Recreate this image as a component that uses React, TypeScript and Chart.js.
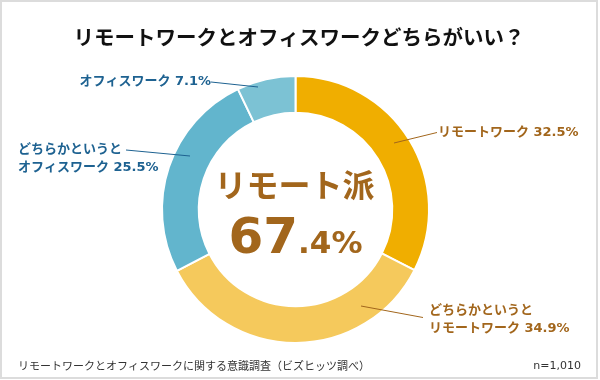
import React, { useEffect, useRef } from "react";
import { Chart, registerables } from "chart.js";

Chart.register(...registerables);

const categories = ["リモートワーク", "どちらかというとリモートワーク", "どちらかというとオフィスワーク", "オフィスワーク"];
const values = [32.5, 34.9, 25.5, 7.1];
const colors = ["#F0AE00", "#F5C95C", "#62B5CD", "#7CC2D4"];
const titleText = "リモートワークとオフィスワークどちらがいい？";
const centerLabel = "リモート派";
const centerMain = "67";
const centerDecimal = ".4%";
const sourceText = "リモートワークとオフィスワークに関する意識調査（ビズヒッツ調べ）";
const sampleText = "n=1,010";

const BROWN = "#A2661C";
const BLUE = "#1E6291";
const FONT = "'DejaVu Sans', 'Noto Sans CJK JP', sans-serif";
const CJK = "'Noto Sans CJK JP', sans-serif";

const annotations = [
  { from: [394, 143], to: [437, 132.5], lines: [`${categories[0]} ${values[0]}%`], x: 438, y: 133, align: "left", color: BROWN },
  { from: [361, 306], to: [423, 317.5], lines: ["どちらかというと", `リモートワーク ${values[1]}%`], x: 429, y: 311, align: "left", color: BROWN },
  { from: [190, 156], to: [126, 150], lines: ["どちらかというと", `オフィスワーク ${values[2]}%`], x: 18, y: 150, align: "left", color: BLUE },
  { from: [258, 87], to: [211, 82], lines: [`${categories[3]} ${values[3]}%`], x: 211, y: 82, align: "right", color: BLUE },
];

const overlayPlugin = {
  id: "overlay",
  afterDraw(chart: any) {
    const ctx = chart.ctx as CanvasRenderingContext2D;
    ctx.save();
    ctx.strokeStyle = "#DCDCDC";
    ctx.lineWidth = 2;
    ctx.strokeRect(1, 1, 596, 377);

    ctx.fillStyle = "#111";
    ctx.textAlign = "center";
    ctx.textBaseline = "middle";
    ctx.font = `bold 20.5px ${CJK}`;
    ctx.fillText(titleText, 299, 37);

    for (const a of annotations) {
      ctx.strokeStyle = a.color;
      ctx.lineWidth = 1;
      ctx.beginPath();
      ctx.moveTo(a.from[0], a.from[1]);
      ctx.lineTo(a.to[0], a.to[1]);
      ctx.stroke();
      ctx.fillStyle = a.color;
      ctx.font = `bold 13px ${FONT}`;
      ctx.textAlign = a.align as CanvasTextAlign;
      ctx.textBaseline = "middle";
      a.lines.forEach((l, i) => ctx.fillText(l, a.x, a.y + i * 17.5));
    }

    const meta = chart.getDatasetMeta(0);
    const arc = meta.data[0];
    const cx = arc.x;
    const cy = arc.y;
    ctx.fillStyle = BROWN;
    ctx.textAlign = "center";
    ctx.textBaseline = "middle";
    ctx.font = `bold 32px ${CJK}`;
    ctx.fillText(centerLabel, cx - 1, cy - 25);

    ctx.textBaseline = "alphabetic";
    ctx.font = `bold 50px ${FONT}`;
    const w1 = ctx.measureText(centerMain).width;
    ctx.font = `bold 31px ${FONT}`;
    const w2 = ctx.measureText(centerDecimal).width;
    const startX = cx - (w1 + w2) / 2;
    ctx.textAlign = "left";
    ctx.font = `bold 50px ${FONT}`;
    ctx.fillText(centerMain, startX, cy + 43);
    ctx.font = `bold 31px ${FONT}`;
    ctx.fillText(centerDecimal, startX + w1, cy + 43);

    ctx.fillStyle = "#333";
    ctx.font = `11px ${CJK}`;
    ctx.textBaseline = "middle";
    ctx.textAlign = "left";
    ctx.fillText(sourceText, 18, 366);
    ctx.textAlign = "right";
    ctx.font = `11px ${FONT}`;
    ctx.fillText(sampleText, 581, 366);
    ctx.restore();
  },
};

export default function App() {
  const ref = useRef<HTMLCanvasElement>(null);
  useEffect(() => {
    const chart = new Chart(ref.current!, {
      type: "doughnut",
      data: {
        labels: categories,
        datasets: [
          {
            data: values,
            backgroundColor: colors,
            borderColor: "#FFFFFF",
            borderWidth: 2,
          },
        ],
      },
      options: {
        animation: false,
        responsive: false,
        maintainAspectRatio: false,
        cutout: "72.5%",
        rotation: 0,
        layout: { padding: { top: 75, bottom: 36, left: 161, right: 170 } },
        plugins: { legend: { display: false }, tooltip: { enabled: false }, title: { display: false } },
      },
      plugins: [overlayPlugin],
    });
    return () => chart.destroy();
  }, []);
  return (
    <div style={{ position: "absolute", left: 0, top: 0, width: 600, height: 380, background: "#fff" }}>
      <canvas ref={ref} width={600} height={380} style={{ display: "block" }} />
    </div>
  );
}
